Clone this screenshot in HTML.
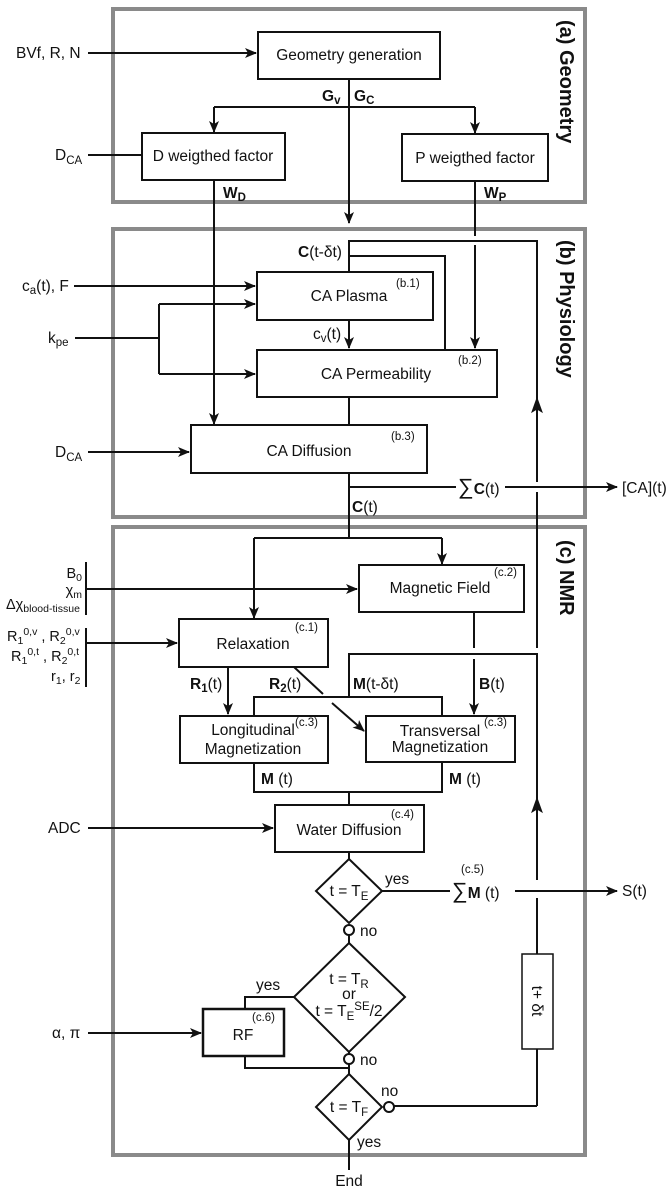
<!DOCTYPE html>
<html><head><meta charset="utf-8"><style>
html,body{margin:0;padding:0;background:#fff;}
svg{display:block;}
text{font-family:"Liberation Sans",sans-serif;font-size:15.5px;fill:#111;}
.s{font-size:11.5px;}
.l{font-size:14.5px;}
.ls{font-size:10.5px;}
.b{font-weight:bold;}
.t{font-size:20px;font-weight:bold;}
</style></head><body>
<svg width="672" height="1192" viewBox="0 0 672 1192" xmlns="http://www.w3.org/2000/svg">
<defs>
<marker id="a" markerWidth="12" markerHeight="10" refX="11" refY="5" orient="auto" markerUnits="userSpaceOnUse">
<path d="M0,0 L12,5 L0,10 L3,5 z" fill="#111"/></marker>
</defs>
<g fill="none" stroke="#8a8a8a" stroke-width="4">
<rect x="113" y="9" width="472" height="193"/>
<rect x="113" y="229" width="472" height="288"/>
<rect x="113" y="527" width="472" height="628"/>
</g>
<text class="t" transform="translate(560,20) rotate(90)">(a) Geometry</text>
<text class="t" transform="translate(560,240) rotate(90)">(b) Physiology</text>
<text class="t" transform="translate(560,540) rotate(90)">(c) NMR</text>

<g fill="none" stroke="#111" stroke-width="2">
<rect x="258" y="32" width="182" height="47"/>
<rect x="142" y="133" width="143" height="47"/>
<rect x="402" y="134" width="146" height="47"/>
<rect x="257" y="272" width="176" height="48"/>
<rect x="257" y="350" width="240" height="47"/>
<rect x="191" y="425" width="236" height="48"/>
<rect x="359" y="565" width="165" height="47"/>
<rect x="179" y="619" width="149" height="48"/>
<rect x="180" y="716" width="148" height="47"/>
<rect x="366" y="716" width="149" height="46"/>
<rect x="275" y="805" width="149" height="47"/>
<rect x="203" y="1009" width="81" height="47" stroke-width="2.5"/>
<rect x="522" y="954" width="31" height="95" stroke-width="1.5"/>
<polygon points="349,859 382,891 349,923 316,891"/>
<polygon points="349,943 405,997 349,1052 294,997"/>
<polygon points="349,1074 382,1107 349,1140 316,1107"/>
<circle cx="349" cy="930" r="5" fill="#fff"/>
<circle cx="349" cy="1059" r="5" fill="#fff"/>
<circle cx="389" cy="1107" r="5" fill="#fff"/>

<line x1="88" y1="53" x2="256" y2="53" marker-end="url(#a)"/>
<line x1="349" y1="79" x2="349" y2="223" marker-end="url(#a)"/>
<line x1="214" y1="107" x2="475" y2="107"/>
<line x1="214" y1="107" x2="214" y2="132" marker-end="url(#a)"/>
<line x1="475" y1="107" x2="475" y2="133" marker-end="url(#a)"/>
<line x1="88" y1="155" x2="142" y2="155"/>
<line x1="214" y1="180" x2="214" y2="424" marker-end="url(#a)"/>
<line x1="475" y1="181" x2="475" y2="236"/>
<line x1="475" y1="245" x2="475" y2="348" marker-end="url(#a)"/>
<polyline points="349,272 349,241 537,241 537,482"/>
<polyline points="349,256 445,256 445,350"/>
<line x1="74" y1="286" x2="255" y2="286" marker-end="url(#a)"/>
<line x1="75" y1="338" x2="159" y2="338"/>
<polyline points="159,304 159,374"/>
<line x1="159" y1="304" x2="255" y2="304" marker-end="url(#a)"/>
<line x1="159" y1="374" x2="255" y2="374" marker-end="url(#a)"/>
<line x1="349" y1="320" x2="349" y2="348" marker-end="url(#a)"/>
<line x1="349" y1="397" x2="349" y2="425"/>
<line x1="88" y1="452" x2="189" y2="452" marker-end="url(#a)"/>
<line x1="349" y1="473" x2="349" y2="538"/>
<line x1="349" y1="487" x2="456" y2="487"/>
<line x1="505" y1="487" x2="617" y2="487" marker-end="url(#a)"/>
<line x1="254" y1="538" x2="442" y2="538"/>
<line x1="442" y1="538" x2="442" y2="564" marker-end="url(#a)"/>
<line x1="254" y1="538" x2="254" y2="618" marker-end="url(#a)"/>
<line x1="86" y1="562" x2="86" y2="615"/>
<line x1="86" y1="589" x2="357" y2="589" marker-end="url(#a)"/>
<line x1="86" y1="628" x2="86" y2="687"/>
<line x1="86" y1="643" x2="177" y2="643" marker-end="url(#a)"/>
<line x1="474" y1="612" x2="474" y2="648"/>
<line x1="474" y1="659" x2="474" y2="714" marker-end="url(#a)"/>
<polyline points="349,697 349,654 537,654 537,880"/>
<line x1="537" y1="492" x2="537" y2="648"/>
<polyline points="254,716 254,697 442,697 442,716"/>
<line x1="228" y1="667" x2="228" y2="714" marker-end="url(#a)"/>
<line x1="294" y1="667" x2="323" y2="694"/>
<line x1="332" y1="703" x2="364" y2="731" marker-end="url(#a)"/>
<polyline points="254,763 254,792 442,792 442,762"/>
<line x1="349" y1="792" x2="349" y2="805"/>
<line x1="88" y1="828" x2="273" y2="828" marker-end="url(#a)"/>
<line x1="349" y1="852" x2="349" y2="859"/>
<line x1="382" y1="891" x2="450" y2="891"/>
<line x1="515" y1="891" x2="617" y2="891" marker-end="url(#a)"/>
<line x1="537" y1="898" x2="537" y2="954"/>
<line x1="537" y1="1049" x2="537" y2="1106"/>
<line x1="394" y1="1106" x2="537" y2="1106"/>
<line x1="349" y1="935" x2="349" y2="943"/>
<polyline points="294,997 245,997 245,1009"/>
<line x1="88" y1="1033" x2="201" y2="1033" marker-end="url(#a)"/>
<polyline points="245,1056 245,1068 349,1068"/>
<line x1="349" y1="1052" x2="349" y2="1054"/>
<line x1="349" y1="1064" x2="349" y2="1074"/>
<line x1="349" y1="1140" x2="349" y2="1170"/>
</g>
<path d="M537,398 L542,412 L537,409 L532,412 z" fill="#111" stroke="#111" stroke-width="1"/>
<path d="M537,798 L542,812 L537,809 L532,812 z" fill="#111" stroke="#111" stroke-width="1"/>

<g text-anchor="middle">
<text x="349" y="60">Geometry generation</text>
<text x="213" y="161">D weigthed factor</text>
<text x="475" y="163">P weigthed factor</text>
<text x="349" y="301">CA Plasma</text>
<text x="376" y="379">CA Permeability</text>
<text x="309" y="456">CA Diffusion</text>
<text x="440" y="593">Magnetic Field</text>
<text x="253" y="649">Relaxation</text>
<text x="253" y="735">Longitudinal</text>
<text x="253" y="754">Magnetization</text>
<text x="440" y="736">Transversal</text>
<text x="440" y="752">Magnetization</text>
<text x="349" y="835">Water Diffusion</text>
<text x="349" y="896">t = T<tspan class="s" dy="4">E</tspan></text>
<text x="349" y="984">t = T<tspan class="s" dy="4">R</tspan></text>
<text x="349" y="999">or</text>
<text x="349" y="1016">t = T<tspan class="s" dy="4">E</tspan><tspan class="s" dy="-10">SE</tspan><tspan dy="6">/2</tspan></text>
<text x="349" y="1112">t = T<tspan class="s" dy="4">F</tspan></text>
<text x="243" y="1040">RF</text>
<text x="349" y="1186">End</text>
</g>
<text transform="translate(532,1001) rotate(90)" text-anchor="middle">t+ δt</text>
<text class="s" x="396" y="287">(b.1)</text>
<text class="s" x="458" y="364">(b.2)</text>
<text class="s" x="391" y="440">(b.3)</text>
<text class="s" x="494" y="576">(c.2)</text>
<text class="s" x="295" y="631">(c.1)</text>
<text class="s" x="295" y="726">(c.3)</text>
<text class="s" x="484" y="726">(c.3)</text>
<text class="s" x="391" y="818">(c.4)</text>
<text class="s" x="461" y="873">(c.5)</text>
<text class="s" x="252" y="1021">(c.6)</text>

<text x="16" y="58">BVf, R, N</text>
<text x="55" y="160">D<tspan class="s" dy="4">CA</tspan></text>
<text class="b" x="322" y="101">G<tspan class="s" dy="3">v</tspan></text>
<text class="b" x="354" y="101">G<tspan class="s" dy="3">C</tspan></text>
<text class="b" x="223" y="198">W<tspan class="s" dy="3">D</tspan></text>
<text class="b" x="484" y="198">W<tspan class="s" dy="3">P</tspan></text>
<text x="298" y="257"><tspan class="b">C</tspan>(t-δt)</text>
<text x="22" y="291">c<tspan class="s" dy="3">a</tspan><tspan dy="-3">(t), F</tspan></text>
<text x="48" y="343">k<tspan class="s" dy="3">pe</tspan></text>
<text x="313" y="339">c<tspan class="s" dy="3">v</tspan><tspan dy="-3">(t)</tspan></text>
<text x="55" y="457">D<tspan class="s" dy="4">CA</tspan></text>
<text x="458" y="494"><tspan style="font-size:22px">∑</tspan><tspan class="b">C</tspan>(t)</text>
<text x="622" y="493">[CA](t)</text>
<text x="352" y="512"><tspan class="b">C</tspan>(t)</text>
<text class="l" x="82" y="578" text-anchor="end">B<tspan class="ls" dy="3">0</tspan></text>
<text class="l" x="82" y="595" text-anchor="end">χ<tspan class="ls" dy="3">m</tspan></text>
<text class="l" x="6" y="609">Δχ<tspan class="ls" dy="3">blood-tissue</tspan></text>
<text class="l" x="7" y="641">R<tspan class="ls" dy="3">1</tspan><tspan class="ls" dy="-9">0,v</tspan><tspan dy="6"> , R</tspan><tspan class="ls" dy="3">2</tspan><tspan class="ls" dy="-9">0,v</tspan></text>
<text class="l" x="11" y="661">R<tspan class="ls" dy="3">1</tspan><tspan class="ls" dy="-9">0,t</tspan><tspan dy="6"> , R</tspan><tspan class="ls" dy="3">2</tspan><tspan class="ls" dy="-9">0,t</tspan></text>
<text class="l" x="51" y="681">r<tspan class="ls" dy="3">1</tspan><tspan dy="-3">, r</tspan><tspan class="ls" dy="3">2</tspan></text>
<text x="190" y="689"><tspan class="b">R</tspan><tspan class="s b" dy="3">1</tspan><tspan dy="-3">(t)</tspan></text>
<text x="269" y="689"><tspan class="b">R</tspan><tspan class="s b" dy="3">2</tspan><tspan dy="-3">(t)</tspan></text>
<text x="353" y="689"><tspan class="b">M</tspan>(t-δt)</text>
<text x="479" y="689"><tspan class="b">B</tspan>(t)</text>
<text x="261" y="784"><tspan class="b">M</tspan>  (t)</text>
<text x="449" y="784"><tspan class="b">M</tspan>  (t)</text>
<text x="48" y="833">ADC</text>
<text x="385" y="884">yes</text>
<text x="452" y="898"><tspan style="font-size:22px">∑</tspan><tspan class="b">M</tspan> (t)</text>
<text x="622" y="896">S(t)</text>
<text x="360" y="936">no</text>
<text x="256" y="990">yes</text>
<text x="52" y="1038">α, π</text>
<text x="360" y="1065">no</text>
<text x="381" y="1096">no</text>
<text x="357" y="1147">yes</text>
</svg>
</body></html>
